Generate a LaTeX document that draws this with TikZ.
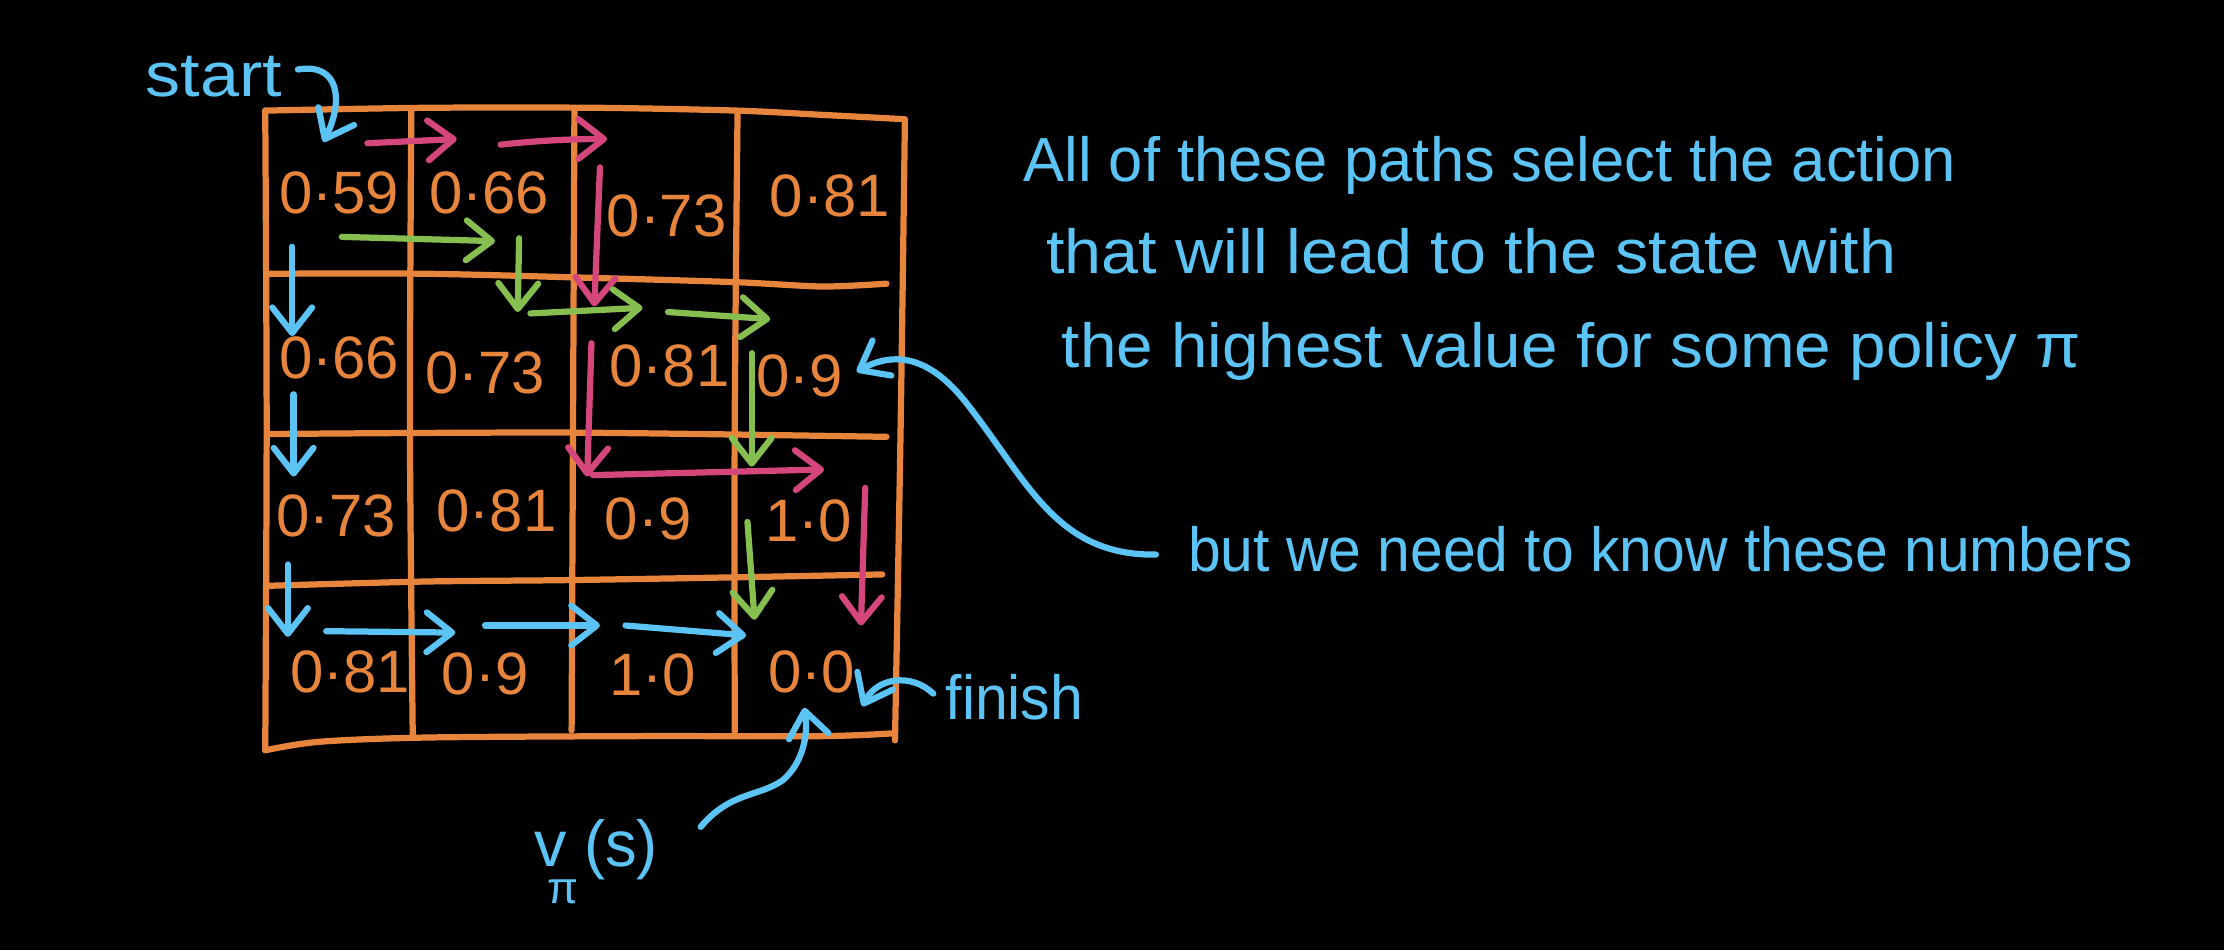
\documentclass[tikz,border=0pt]{standalone}
\usepackage{fontspec}
\setmainfont{Liberation Sans}
\usetikzlibrary{arrows.meta}
\definecolor{gridorange}{HTML}{E8853D}
\definecolor{skyblue}{HTML}{5CC3F5}
\definecolor{pinkred}{HTML}{D5467C}
\definecolor{leafgreen}{HTML}{87BE50}
\newcommand\fitw[2]{\resizebox{#1}{\height}{#2}}
\begin{document}
\begin{tikzpicture}[x=0.01cm,y=-0.01cm,
  gridline/.style={draw=gridorange, line width=1.25pt, line cap=round, line join=round},
  arr/.style={line width=1.25pt, line cap=round, -{Straight Barb[length=1.8mm,width=2.8mm,round]}},
  bluearr/.style={arr, draw=skyblue},
  pinkarr/.style={arr, draw=pinkred},
  greenarr/.style={arr, draw=leafgreen},
  val/.style={text=gridorange, font=\fontsize{12}{14}\selectfont, inner sep=0pt},
  note/.style={text=skyblue, font=\fontsize{12.5}{15}\selectfont, inner sep=0pt, anchor=base west},
]
\fill[black] (0,0) rectangle (1568,670);
\useasboundingbox (0,0) rectangle (1568,670);

% ---- grid ----
\draw[gridline] plot[smooth] coordinates {(187,78) (300,76) (420,76) (520,78) (580,81) (637,84)};
\draw[gridline] plot[smooth] coordinates {(187,78) (188,300) (187,529)};
\draw[gridline] plot[smooth] coordinates {(190,193) (300,193) (420,196) (520,199) (580,202) (625,200)};
\draw[gridline] plot[smooth] coordinates {(190,306) (400,305) (625,308)};
\draw[gridline] plot[smooth] coordinates {(190,413) (300,410) (400,409) (520,407) (622,405)};
\draw[gridline] plot[smooth] coordinates {(187,529) (225,523) (300,520) (450,519) (580,519) (630,517)};
\draw[gridline] plot[smooth] coordinates {(290,78) (289,300) (291,518)};
\draw[gridline] plot[smooth] coordinates {(405,77) (404,300) (403,515)};
\draw[gridline] plot[smooth] coordinates {(520,79) (518,300) (518,516)};
\draw[gridline] plot[smooth] coordinates {(638,84) (635,300) (631,522)};

% ---- values ----
\node[val] (c11) at (239,136) {0·59};
\node[val] (c12) at (345,136) {0·66};
\node[val] (c13) at (470,152) {0·73};
\node[val] (c14) at (585,138) {0·81};
\node[val] (c21) at (239,252) {0·66};
\node[val] (c22) at (342,263) {0·73};
\node[val] (c23) at (472,258) {0·81};
\node[val] (c24) at (564,265) {0·9};
\node[val] (c31) at (237,364) {0·73};
\node[val] (c32) at (350,360) {0·81};
\node[val] (c33) at (457,366) {0·9};
\node[val] (c34) at (570,367) {1·0};
\node[val] (c41) at (247,474) {0·81};
\node[val] (c42) at (342,475) {0·9};
\node[val] (c43) at (460,476) {1·0};
\node[val] (c44) at (572,474) {0·0};

% ---- texts ----
\node[note] (start) at (102,68) {\fitw{0.96cm}{start}};
\node[note] (finish) at (666,507) {\fitw{0.97cm}{finish}};
\node[note, font=\fontsize{13}{15}\selectfont] (vpi) at (376,611)
  {v\kern-3.9pt\raisebox{-7.4pt}{\fontsize{9}{11}\selectfont π}\kern1.2pt\fitw{0.52cm}{(s)}};
\node[note] (l1) at (721,128) {\fitw{6.57cm}{All of these paths select the action}};
\node[note] (l2) at (737,193) {\fitw{5.99cm}{that will lead to the state with}};
\node[note] (l3) at (748,259) {\fitw{7.18cm}{the highest value for some policy π}};
\node[note] (l4) at (837,403) {\fitw{6.66cm}{but we need to know these numbers}};

% ---- arrow end points ----
\coordinate (sA) at (210,49);   \coordinate (sB) at (228,100);
\coordinate (fA) at (658,489);  \coordinate (fB) at (608,498);
\coordinate (vA) at (494,583);  \coordinate (vB) at (567,499);
\coordinate (nA) at (815,391);  \coordinate (nB) at (604,262);

% blue policy path
\coordinate (b1a) at (206,174); \coordinate (b1b) at (206,237);
\coordinate (b2a) at (207,278); \coordinate (b2b) at (207,336);
\coordinate (b3a) at (203,398); \coordinate (b3b) at (203,449);
\coordinate (b4a) at (230,445); \coordinate (b4b) at (321,446);
\coordinate (b5a) at (342,441); \coordinate (b5b) at (423,441);
\coordinate (b6a) at (441,441); \coordinate (b6b) at (526,448);
% pink path
\coordinate (p1a) at (259,101); \coordinate (p1b) at (322,98);
\coordinate (p2a) at (353,102); \coordinate (p2b) at (428,98);
\coordinate (p3a) at (423,118); \coordinate (p3b) at (419,216);
\coordinate (p4a) at (417,242); \coordinate (p4b) at (414,336);
\coordinate (p5a) at (418,335); \coordinate (p5b) at (581,331);
\coordinate (p6a) at (610,344); \coordinate (p6b) at (607,441);
% green path
\coordinate (g1a) at (241,167); \coordinate (g1b) at (349,170);
\coordinate (g2a) at (366,168); \coordinate (g2b) at (365,220);
\coordinate (g3a) at (374,221); \coordinate (g3b) at (453,217);
\coordinate (g4a) at (471,220); \coordinate (g4b) at (543,225);
\coordinate (g5a) at (530,249); \coordinate (g5b) at (530,329);
\coordinate (g6a) at (527,368); \coordinate (g6b) at (532,437);

% ---- arrows ----
\draw[bluearr] (sA) .. controls (240,44) and (242,72) .. (sB);
\draw[bluearr] (fA) .. controls (642,474) and (618,478) .. (fB);
\draw[bluearr] (vA) .. controls (515,558) and (535,562) .. (552,550) .. controls (566,538) and (570,518) .. (vB);
\draw[bluearr] (nA) .. controls (745,392) and (725,340) .. (682,285) .. controls (655,250) and (630,248) .. (nB);

\draw[bluearr] (b1a) -- (b1b);
\draw[bluearr] (b2a) -- (b2b);
\draw[bluearr] (b3a) -- (b3b);
\draw[bluearr] (b4a) -- (b4b);
\draw[bluearr] (b5a) -- (b5b);
\draw[bluearr] (b6a) -- (b6b);

\draw[pinkarr] (p1a) -- (p1b);
\draw[pinkarr] (p2a) .. controls (380,99) and (405,98) .. (p2b);
\draw[pinkarr] (p3a) -- (p3b);
\draw[pinkarr] (p4a) -- (p4b);
\draw[pinkarr] (p5a) -- (p5b);
\draw[pinkarr] (p6a) -- (p6b);

\draw[greenarr] (g1a) -- (g1b);
\draw[greenarr] (g2a) -- (g2b);
\draw[greenarr] (g3a) -- (g3b);
\draw[greenarr] (g4a) -- (g4b);
\draw[greenarr] (g5a) -- (g5b);
\draw[greenarr] (g6a) -- (g6b);
\end{tikzpicture}
\end{document}
